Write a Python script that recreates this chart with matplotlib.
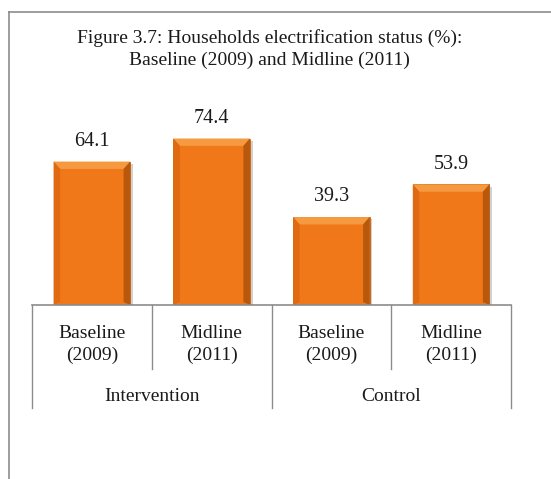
import matplotlib.pyplot as plt
from matplotlib.patches import Polygon
from matplotlib.lines import Line2D

groups = ['Intervention', 'Control']
rounds = ['Baseline\n(2009)', 'Midline\n(2011)', 'Baseline\n(2009)', 'Midline\n(2011)']
values = [64.1, 74.4, 39.3, 53.9]

plt.rcParams['font.family'] = ['Liberation Serif', 'DejaVu Serif']

fig = plt.figure(figsize=(5.51, 4.79), dpi=100)
ax = fig.add_axes([0.0581, 0.3633, 0.8693, 0.3737])

x = list(range(len(values)))
w = 0.64
bx, by = 0.055, 3.3  # bevel size in data units

# soft shadow behind the bars
ax.bar([i + 0.012 for i in x], [v - 0.4 for v in values], width=w + 0.02, bottom=-0.6,
       color='#9a9a9a', alpha=0.45, zorder=1)
bars = ax.bar(x, values, width=w, color='#F07818', edgecolor='#C8600E', linewidth=0.6, zorder=2)

for b in bars:
    x0, x1 = b.get_x(), b.get_x() + b.get_width()
    h = b.get_height()
    # top chamfer
    ax.add_patch(Polygon([(x0, h), (x1, h), (x1 - bx, h - by), (x0 + bx, h - by)],
                         closed=True, color='#F59A40', zorder=3, lw=0))
    # left and right sides
    ax.add_patch(Polygon([(x0, h), (x0 + bx, h - by), (x0 + bx, by * 0.4), (x0, 0)],
                         closed=True, color='#E06A12', zorder=3, lw=0))
    ax.add_patch(Polygon([(x1, h), (x1 - bx, h - by), (x1 - bx, by * 0.4), (x1, 0)],
                         closed=True, color='#B8580C', zorder=3, lw=0))
    ax.text(b.get_x() + b.get_width() / 2, h + 4.8, f'{h:.1f}', ha='center', va='bottom',
            fontsize=14.5, color='#1a1a1a')

ax.set_xlim(-0.5, len(values) - 0.5)
ax.set_ylim(0, 80)
ax.axis('off')

grey = '#8c8c8c'
ax.plot([-0.5, len(values) - 0.5], [0, 0], color=grey, lw=1.2, clip_on=False, zorder=4)

# two-level category axis drawn below the plot
tr = ax.get_xaxis_transform()
for i in range(len(values) + 1):
    edge = i - 0.5
    low = -0.575 if i % 2 == 0 else -0.358
    ax.add_line(Line2D([edge, edge], [0, low], transform=tr, color=grey, lw=1.0, clip_on=False))
for i, lab in enumerate(rounds):
    ax.text(i, -0.223, lab, transform=tr, ha='center', va='center', fontsize=14,
            linespacing=1.35, color='#1a1a1a')
for j, g in enumerate(groups):
    ax.text(2 * j + 0.5, -0.514, g, transform=tr, ha='center', va='center', fontsize=14,
            color='#1a1a1a')

# frame and title
fig.add_artist(Line2D([9 / 551, 9 / 551], [0, 1 - 12 / 479], color=grey, lw=1.2))
fig.add_artist(Line2D([9 / 551, 1], [1 - 12 / 479, 1 - 12 / 479], color=grey, lw=1.2))
fig.text(0.489, 1 - 49 / 479, 'Figure 3.7: Households electrification status (%):\n'
         'Baseline (2009) and Midline (2011)', ha='center', va='center', fontsize=14,
         linespacing=1.3, color='#1a1a1a')

fig.savefig('out.png', dpi=100)
